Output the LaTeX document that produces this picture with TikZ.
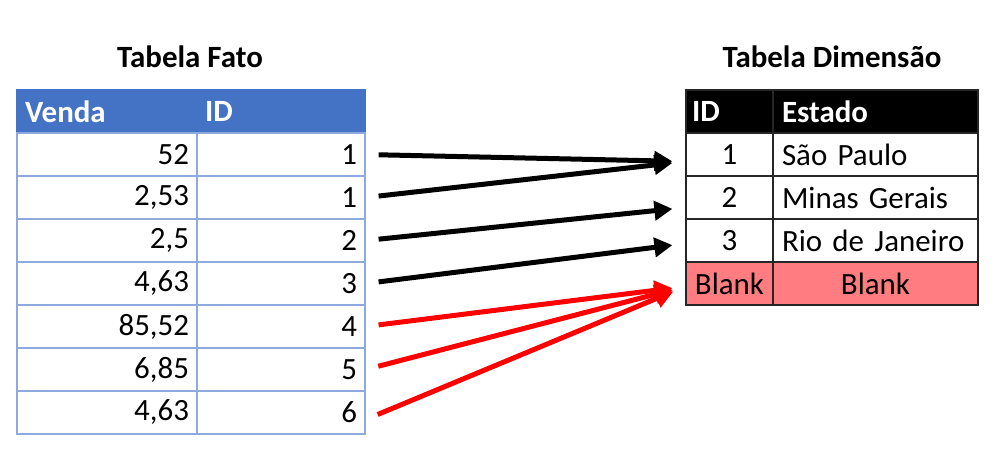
\documentclass[tikz,border=0pt]{standalone}
\usepackage{fontspec}
\setmainfont{Carlito}
\usetikzlibrary{arrows.meta,positioning}

\definecolor{hdrblue}{HTML}{4472C4}
\definecolor{gridblue}{HTML}{8EA9DB}
\definecolor{blankred}{HTML}{FF7C80}

\begin{document}
\begin{tikzpicture}[x=0.02cm, y=-0.02cm,
  cell/.style={draw, minimum height=0.86cm, inner ysep=0pt, line width=0.8pt,
    font=\fontsize{17.6}{20}\selectfont},
  fcolA/.style={cell, draw=gridblue, inner xsep=0.16cm, text width=3.28cm},
  fcolB/.style={cell, draw=gridblue, inner xsep=0.16cm, text width=3.04cm},
  dcolA/.style={cell, draw=black!85, inner xsep=0.12cm, text width=1.5cm},
  dcolB/.style={cell, draw=black!85, inner xsep=0.18cm, text width=3.74cm},
  fhead/.style={fill=hdrblue, draw=hdrblue, text=white, font=\fontsize{17.6}{20}\selectfont\bfseries, align=left},
  dhead/.style={fill=black, text=white, font=\fontsize{17.6}{20}\selectfont\bfseries, align=left},
  title/.style={font=\fontsize{17.6}{20}\selectfont\bfseries},
  link/.style={line width=0.1cm, -{Triangle[length=0.36cm,width=0.38cm]},
    shorten <=0.26cm, shorten >=0.26cm},
  lost/.style={link, red}
]
\useasboundingbox (0,0) rectangle (1000,454);

% tabela fato
\node[title] (tfato) at (190,57) {Tabela Fato};
\node[fcolA, fhead] (fh) at (107,111.5) {Venda};
\node[fcolB, fhead] (fidh) at (281,111.5) {ID};
\foreach \v/\i [count=\n] in {52/1, {2,53}/1, {2,5}/2, {4,63}/3, {85,52}/4, {6,85}/5, {4,63}/6} {
  \node[fcolA, align=right] (f\n) at (107,111.5+43*\n) {\v};
  \node[fcolB, align=right] (fid\n) at (281,111.5+43*\n) {\i};
}

% tabela dimensao
\node[title] (tdim) at (832,57) {Tabela Dimensão};
\node[dcolA, dhead] (didh) at (729.5,111.5) {ID};
\node[dcolB, dhead] (dsth) at (875.5,111.5) {Estado};
\foreach \i/\e [count=\n] in {1/São Paulo, 2/Minas Gerais, 3/Rio de Janeiro} {
  \node[dcolA, align=center] (did\n) at (729.5,111.5+43*\n) {\i};
  \node[dcolB, align=left] (dst\n) at (875.5,111.5+43*\n) {\e};
}
\node[dcolA, fill=blankred, align=center] (did4) at (729.5,283.5) {Blank};
\node[dcolB, fill=blankred, align=center] (dst4) at (875.5,283.5) {Blank};

% ligacoes
\draw[link] (fid1.east) -- ([yshift=-0.14cm]did1.west);
\draw[link] (fid2.east) -- ([yshift=-0.14cm]did1.west);
\draw[link] (fid3.east) -- ([yshift=-0.2cm]did2.west);
\draw[link] (fid4.east) -- ([yshift=-0.06cm]did3.west);
\draw[lost] (fid5.east) -- ([yshift=-0.06cm]did4.west);
\draw[lost] (fid6.east) -- ([yshift=-0.06cm]did4.west);
\draw[lost] ([yshift=-0.14cm]fid7.east) -- ([yshift=-0.06cm]did4.west);
\end{tikzpicture}
\end{document}
